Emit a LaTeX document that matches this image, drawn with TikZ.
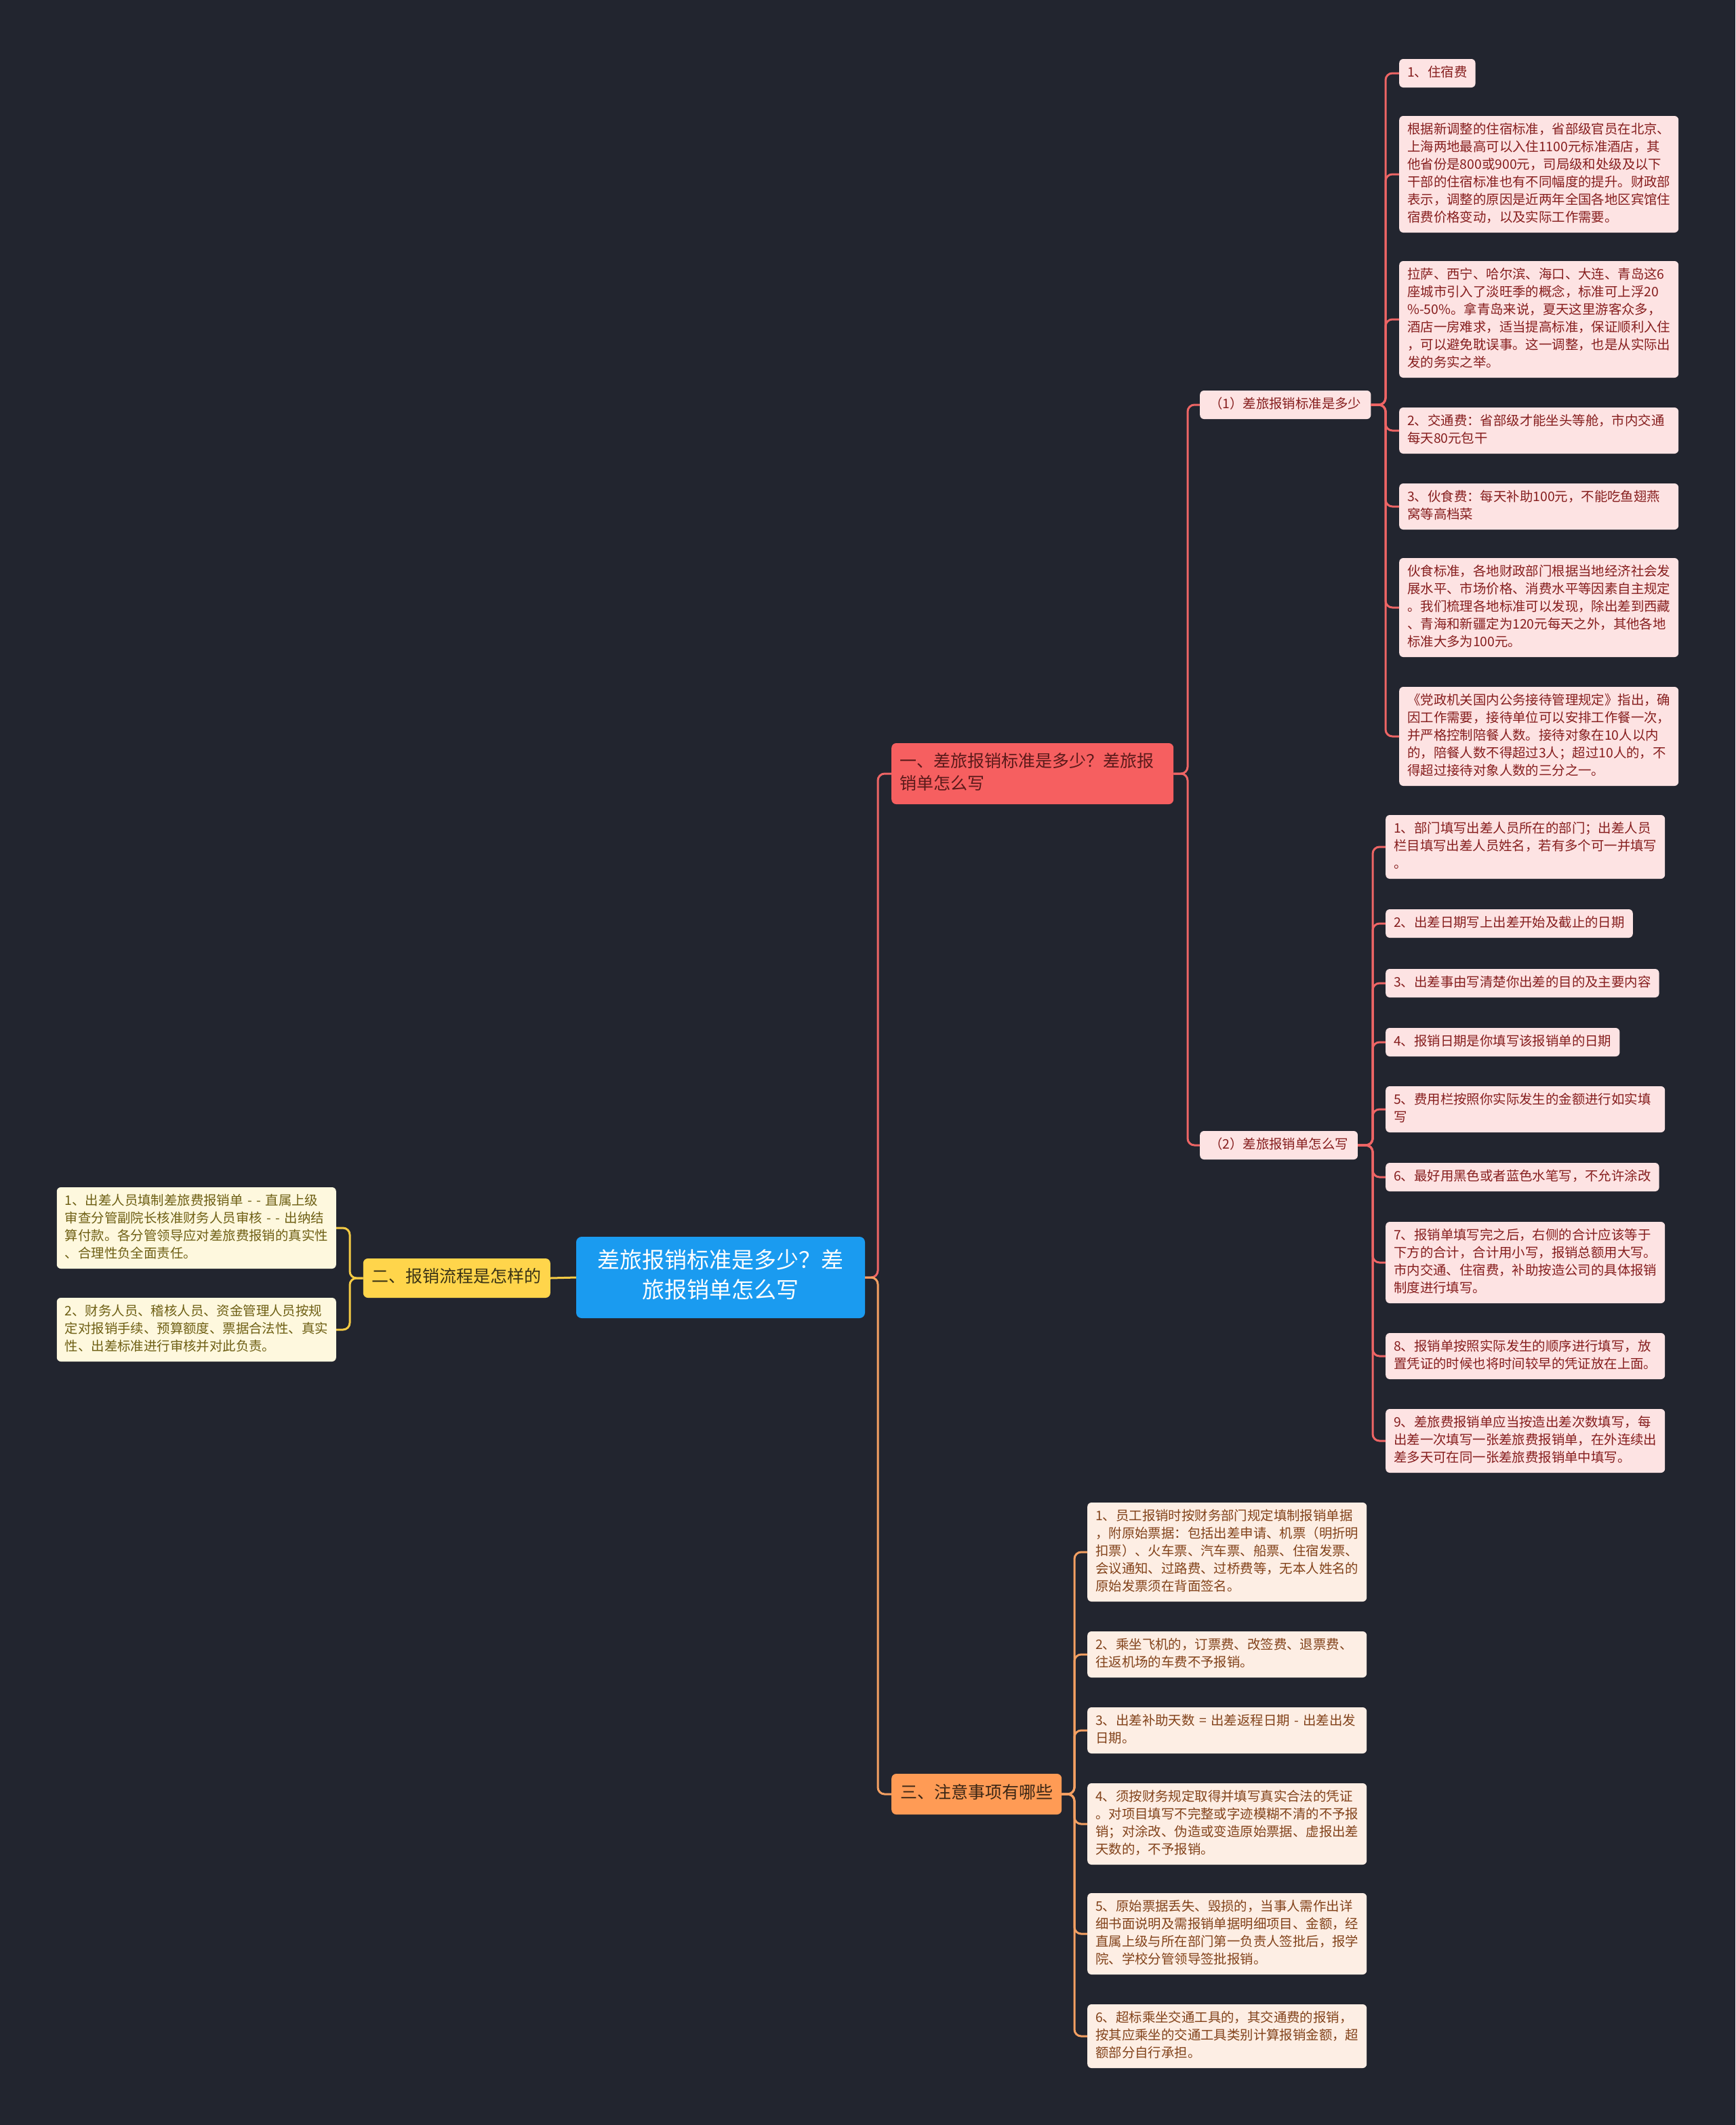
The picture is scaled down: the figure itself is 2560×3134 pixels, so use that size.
\documentclass[tikz,border=0pt]{standalone}
\usepackage{fontspec}
\setmainfont{Noto Sans CJK SC}
\usepackage{xcolor}
\usepackage{tikz}

\definecolor{bgdark}{HTML}{22252F}
\definecolor{rootblue}{HTML}{1A9BF0}
\definecolor{redmain}{HTML}{F65F60}
\definecolor{redline}{HTML}{EE6565}
\definecolor{redlight}{HTML}{FDE3E3}
\definecolor{redtext}{HTML}{861E1E}
\definecolor{redmaintext}{HTML}{5A1A1A}
\definecolor{yellowmain}{HTML}{FFD54B}
\definecolor{yellowline}{HTML}{F5CB45}
\definecolor{yellowlight}{HTML}{FEF8DE}
\definecolor{yellowtext}{HTML}{6E5F14}
\definecolor{yellowmaintext}{HTML}{3A3315}
\definecolor{orangemain}{HTML}{FF9B55}
\definecolor{orangeline}{HTML}{F5A062}
\definecolor{orangelight}{HTML}{FDEEE4}
\definecolor{orangetext}{HTML}{82421A}
\definecolor{orangemaintext}{HTML}{3A2615}

\begin{document}
\begin{tikzpicture}[
    x=1pt, y=-1pt,
    box/.style={
        rounded corners=6pt,
        inner xsep=12pt,
        inner ysep=8pt,
        align=left,
        font=\fontsize{19.4}{26}\selectfont,
        execute at begin node=\strut,
        execute at end node=\strut
    },
    wide/.style={
        text width=388pt
    },
    redleaf/.style={
        box,
        fill=redlight,
        text=redtext
    },
    yellowleaf/.style={
        box,
        fill=yellowlight,
        text=yellowtext
    },
    orangeleaf/.style={
        box,
        fill=orangelight,
        text=orangetext
    },
    branch/.style={
        rounded corners=7pt,
        inner xsep=13pt,
        inner ysep=12.5pt,
        align=left,
        font=\fontsize{25}{33}\selectfont,
        execute at begin node=\strut,
        execute at end node=\strut
    },
    topic/.style={
        rounded corners=8pt,
        fill=rootblue,
        text=white,
        inner xsep=20pt,
        inner ysep=16pt,
        text width=386pt,
        align=center,
        font=\fontsize{33}{44}\selectfont,
        execute at begin node=\strut,
        execute at end node=\strut
    },
    redwire/.style={
        draw=redline,
        line width=3pt,
        rounded corners=10pt
    },
    yellowwire/.style={
        draw=yellowline,
        line width=3pt,
        rounded corners=10pt
    },
    orangewire/.style={
        draw=orangeline,
        line width=3pt,
        rounded corners=10pt
    }
]

% Background
\fill[bgdark] (0,0) rectangle (2560,3134);

% Central topic and main branches
\node[topic] (root) at (1063,1884) {差旅报销标准是多少？差\\旅报销单怎么写};
\node[branch, fill=redmain, text=redmaintext, text width=392pt, inner xsep=12pt, inner ysep=12pt, anchor=west] (one) at (1315,1141) {一、差旅报销标准是多少？差旅报\\销单怎么写};
\node[branch, fill=yellowmain, text=yellowmaintext, anchor=east] (two) at (812,1885) {二、报销流程是怎样的};
\node[branch, fill=orangemain, text=orangemaintext, inner ysep=13.5pt, anchor=west] (three) at (1315,2646) {三、注意事项有哪些};

% Sub branches of part one
\node[redleaf, inner xsep=14pt, anchor=west] (std) at (1770,597) {（1）差旅报销标准是多少};
\node[redleaf, inner xsep=14pt, anchor=west] (form) at (1770,1689) {（2）差旅报销单怎么写};

% Leaves: (1) standards
\node[redleaf, anchor=west] (std1) at (2064,108) {1、住宿费};
\node[redleaf, wide, anchor=west] (std2) at (2064,257) {根据新调整的住宿标准，省部级官员在北京、\\上海两地最高可以入住1100元标准酒店，其\\他省份是800或900元，司局级和处级及以下\\干部的住宿标准也有不同幅度的提升。财政部\\表示，调整的原因是近两年全国各地区宾馆住\\宿费价格变动，以及实际工作需要。};
\node[redleaf, wide, anchor=west] (std3) at (2064,471) {拉萨、西宁、哈尔滨、海口、大连、青岛这6\\座城市引入了淡旺季的概念，标准可上浮20\\\%-50\%。拿青岛来说，夏天这里游客众多，\\酒店一房难求，适当提高标准，保证顺利入住\\，可以避免耽误事。这一调整，也是从实际出\\发的务实之举。};
\node[redleaf, wide, anchor=west] (std4) at (2064,635) {2、交通费：省部级才能坐头等舱，市内交通\\每天80元包干};
\node[redleaf, wide, anchor=west] (std5) at (2064,747) {3、伙食费：每天补助100元，不能吃鱼翅燕\\窝等高档菜};
\node[redleaf, wide, anchor=west] (std6) at (2064,896) {伙食标准，各地财政部门根据当地经济社会发\\展水平、市场价格、消费水平等因素自主规定\\。我们梳理各地标准可以发现，除出差到西藏\\、青海和新疆定为120元每天之外，其他各地\\标准大多为100元。};
\node[redleaf, wide, anchor=west] (std7) at (2064,1086) {《党政机关国内公务接待管理规定》指出，确\\因工作需要，接待单位可以安排工作餐一次，\\并严格控制陪餐人数。接待对象在10人以内\\的，陪餐人数不得超过3人；超过10人的，不\\得超过接待对象人数的三分之一。};

% Leaves: (2) how to fill in the form
\node[redleaf, wide, anchor=west] (form1) at (2044,1249) {1、部门填写出差人员所在的部门；出差人员\\栏目填写出差人员姓名，若有多个可一并填写\\。};
\node[redleaf, anchor=west] (form2) at (2044,1362) {2、出差日期写上出差开始及截止的日期};
\node[redleaf, anchor=west] (form3) at (2044,1450) {3、出差事由写清楚你出差的目的及主要内容};
\node[redleaf, anchor=west] (form4) at (2044,1537) {4、报销日期是你填写该报销单的日期};
\node[redleaf, wide, anchor=west] (form5) at (2044,1636) {5、费用栏按照你实际发生的金额进行如实填\\写};
\node[redleaf, anchor=west] (form6) at (2044,1736) {6、最好用黑色或者蓝色水笔写，不允许涂改};
\node[redleaf, wide, anchor=west] (form7) at (2044,1862) {7、报销单填写完之后，右侧的合计应该等于\\下方的合计，合计用小写，报销总额用大写。\\市内交通、住宿费，补助按造公司的具体报销\\制度进行填写。};
\node[redleaf, wide, anchor=west] (form8) at (2044,2000) {8、报销单按照实际发生的顺序进行填写，放\\置凭证的时候也将时间较早的凭证放在上面。};
\node[redleaf, wide, anchor=west] (form9) at (2044,2125) {9、差旅费报销单应当按造出差次数填写，每\\出差一次填写一张差旅费报销单，在外连续出\\差多天可在同一张差旅费报销单中填写。};

% Leaves: process
\node[yellowleaf, wide, anchor=east] (flow1) at (496,1811) {1、出差人员填制差旅费报销单 - - 直属上级\\审查分管副院长核准财务人员审核 - - 出纳结\\算付款。各分管领导应对差旅费报销的真实性\\、合理性负全面责任。};
\node[yellowleaf, wide, anchor=east] (flow2) at (496,1961) {2、财务人员、稽核人员、资金管理人员按规\\定对报销手续、预算额度、票据合法性、真实\\性、出差标准进行审核并对此负责。};

% Leaves: notes
\node[orangeleaf, wide, anchor=west] (note1) at (1604,2289) {1、员工报销时按财务部门规定填制报销单据\\，附原始票据：包括出差申请、机票（明折明\\扣票）、火车票、汽车票、船票、住宿发票、\\会议通知、过路费、过桥费等，无本人姓名的\\原始发票须在背面签名。};
\node[orangeleaf, wide, anchor=west] (note2) at (1604,2440) {2、乘坐飞机的，订票费、改签费、退票费、\\往返机场的车费不予报销。};
\node[orangeleaf, wide, anchor=west] (note3) at (1604,2552) {3、出差补助天数 = 出差返程日期 - 出差出发\\日期。};
\node[orangeleaf, wide, anchor=west] (note4) at (1604,2690) {4、须按财务规定取得并填写真实合法的凭证\\。对项目填写不完整或字迹模糊不清的不予报\\销；对涂改、伪造或变造原始票据、虚报出差\\天数的，不予报销。};
\node[orangeleaf, wide, anchor=west] (note5) at (1604,2852) {5、原始票据丢失、毁损的，当事人需作出详\\细书面说明及需报销单据明细项目、金额，经\\直属上级与所在部门第一负责人签批后，报学\\院、学校分管领导签批报销。};
\node[orangeleaf, wide, anchor=west] (note6) at (1604,3003) {6、超标乘坐交通工具的，其交通费的报销，\\按其应乘坐的交通工具类别计算报销金额，超\\额部分自行承担。};

% Connectors: central topic
\draw[redwire] (root.east) -| ([xshift=-20pt]one.west) -- (one.west);
\draw[orangewire] (root.east) -| ([xshift=-20pt]three.west) -- (three.west);
\draw[yellowwire] (root.west) -- (two.east);

% Connectors: part one
\draw[redwire] (one.east) -| ([xshift=-18pt]std.west) -- (std.west);
\draw[redwire] (one.east) -| ([xshift=-18pt]form.west) -- (form.west);

\draw[redwire] (std.east) -| ([xshift=-20pt]std1.west) -- (std1.west);
\draw[redwire] (std.east) -| ([xshift=-20pt]std2.west) -- (std2.west);
\draw[redwire] (std.east) -| ([xshift=-20pt]std3.west) -- (std3.west);
\draw[redwire] (std.east) -| ([xshift=-20pt]std4.west) -- (std4.west);
\draw[redwire] (std.east) -| ([xshift=-20pt]std5.west) -- (std5.west);
\draw[redwire] (std.east) -| ([xshift=-20pt]std6.west) -- (std6.west);
\draw[redwire] (std.east) -| ([xshift=-20pt]std7.west) -- (std7.west);

\draw[redwire] (form.east) -| ([xshift=-19pt]form1.west) -- (form1.west);
\draw[redwire] (form.east) -| ([xshift=-19pt]form2.west) -- (form2.west);
\draw[redwire] (form.east) -| ([xshift=-19pt]form3.west) -- (form3.west);
\draw[redwire] (form.east) -| ([xshift=-19pt]form4.west) -- (form4.west);
\draw[redwire] (form.east) -| ([xshift=-19pt]form5.west) -- (form5.west);
\draw[redwire] (form.east) -| ([xshift=-19pt]form6.west) -- (form6.west);
\draw[redwire] (form.east) -| ([xshift=-19pt]form7.west) -- (form7.west);
\draw[redwire] (form.east) -| ([xshift=-19pt]form8.west) -- (form8.west);
\draw[redwire] (form.east) -| ([xshift=-19pt]form9.west) -- (form9.west);

% Connectors: process
\draw[yellowwire] (two.west) -| ([xshift=20pt]flow1.east) -- (flow1.east);
\draw[yellowwire] (two.west) -| ([xshift=20pt]flow2.east) -- (flow2.east);

% Connectors: notes
\draw[orangewire] (three.east) -| ([xshift=-19pt]note1.west) -- (note1.west);
\draw[orangewire] (three.east) -| ([xshift=-19pt]note2.west) -- (note2.west);
\draw[orangewire] (three.east) -| ([xshift=-19pt]note3.west) -- (note3.west);
\draw[orangewire] (three.east) -| ([xshift=-19pt]note4.west) -- (note4.west);
\draw[orangewire] (three.east) -| ([xshift=-19pt]note5.west) -- (note5.west);
\draw[orangewire] (three.east) -| ([xshift=-19pt]note6.west) -- (note6.west);

\end{tikzpicture}
\end{document}
